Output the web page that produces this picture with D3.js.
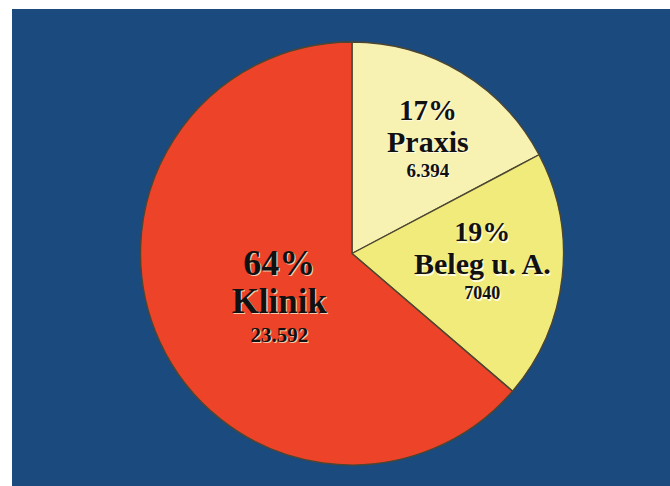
<!DOCTYPE html>
<html>
<head>
<meta charset="utf-8">
<script src="https://cdn.jsdelivr.net/npm/d3@7"></script>
<style>
  html, body { margin: 0; padding: 0; background: #ffffff; }
  svg { display: block; }
</style>
</head>
<body>
<svg id="chart" width="670" height="486"></svg>
<script>
// Verteilung nach Versorgungsbereich
const categories = ["Praxis", "Beleg u. A.", "Klinik"];
const values = [6394, 7040, 23592];
const percentLabels = ["17%", "19%", "64%"];
const valueLabels = ["6.394", "7040", "23.592"];
const colors = ["#f8f2b2", "#f1eb7c", "#ec4329"];

const svg = d3.select("#chart");
const W = 670, H = 486;

// dark blue backdrop with a thin white margin at top and left
svg.append("rect")
  .attr("x", 12).attr("y", 9)
  .attr("width", W - 12).attr("height", H - 9)
  .attr("fill", "#1b4a7f");

const cx = 352, cy = 253.5, r = 211.5;
const g = svg.append("g").attr("transform", `translate(${cx},${cy})`);

const pie = d3.pie().sort(null).value(d => d.value);
const data = categories.map((c, i) => ({
  name: c, value: values[i], pct: percentLabels[i], val: valueLabels[i], color: colors[i]
}));
const arcs = pie(data);
const arc = d3.arc().innerRadius(0).outerRadius(r);

g.selectAll("path.slice")
  .data(arcs)
  .enter().append("path")
  .attr("class", "slice")
  .attr("d", arc)
  .attr("fill", d => d.data.color)
  .attr("stroke", "#4d4631")
  .attr("stroke-width", 1.4)
  .attr("stroke-linejoin", "round");

// label placement: radius factor along the slice, plus a small nudge
const labelLayout = {
  "Praxis":      { k: 0.64, dx: 6,  dy: 1,  sizes: [29, 30, 19], gaps: [0, 32, 25] },
  "Beleg u. A.": { k: 0.62, dx: 0,  dy: -7, sizes: [28, 30, 18], gaps: [0, 33, 25] },
  "Klinik":      { k: 0.42, dx: 8,  dy: 6,  sizes: [36, 35, 21], gaps: [0, 38, 29] }
};

const font = "'Liberation Serif', 'Times New Roman', serif";

arcs.forEach(d => {
  const L = labelLayout[d.data.name];
  const c = d3.arc().innerRadius(r * L.k).outerRadius(r * L.k).centroid(d);
  const x = c[0] + L.dx;
  const mid = c[1] + L.dy;
  const lines = [d.data.pct, d.data.name, d.data.val];
  // baselines: block roughly centred on the anchor
  const total = L.gaps[1] + L.gaps[2];
  let y0 = mid - total / 2 + L.sizes[0] * 0.33;
  const ys = [y0, y0 + L.gaps[1], y0 + L.gaps[1] + L.gaps[2]];
  const shadow = d.data.name === "Klinik" ? "#f7c9aa" : "#fffbe0";
  lines.forEach((t, i) => {
    g.append("text")
      .attr("x", x + 1.3).attr("y", ys[i] + 1.3)
      .attr("text-anchor", "middle")
      .attr("font-family", font).attr("font-weight", "bold")
      .attr("font-size", L.sizes[i])
      .attr("fill", shadow)
      .text(t);
    g.append("text")
      .attr("x", x).attr("y", ys[i])
      .attr("text-anchor", "middle")
      .attr("font-family", font).attr("font-weight", "bold")
      .attr("font-size", L.sizes[i])
      .attr("fill", "#111111")
      .text(t);
  });
});
</script>
</body>
</html>
